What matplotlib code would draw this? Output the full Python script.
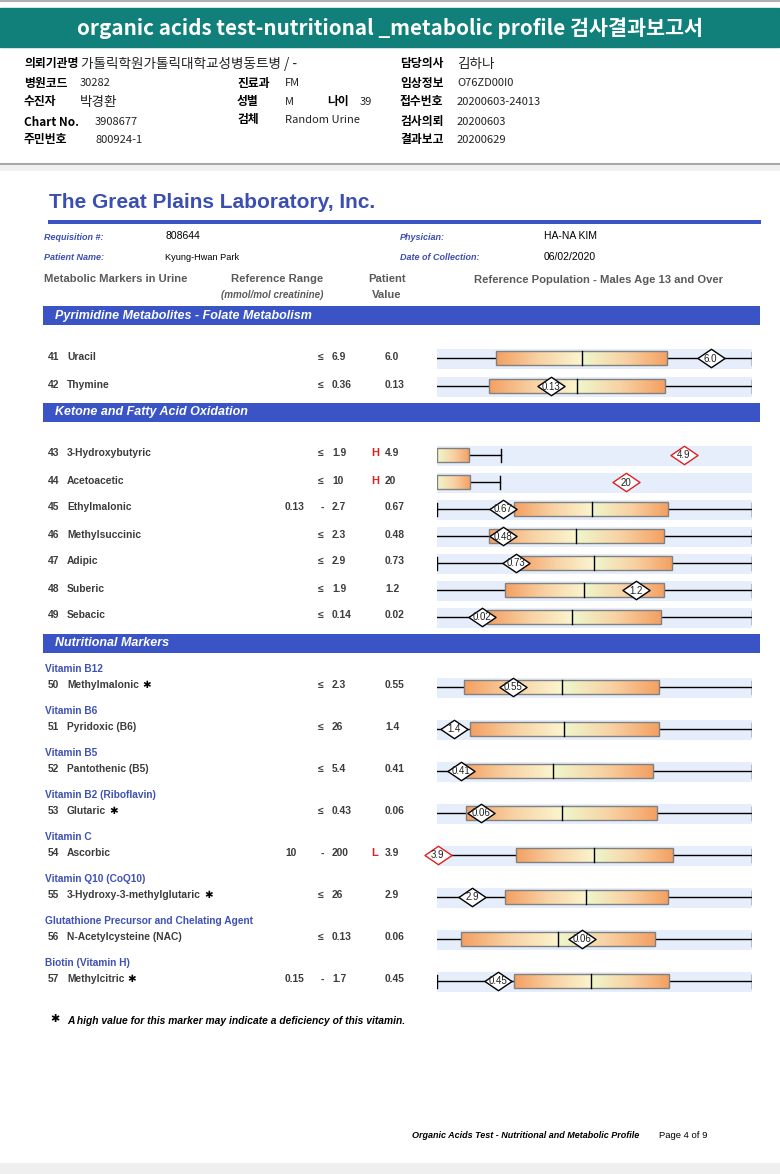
import numpy as np
import matplotlib
matplotlib.use("Agg")
import matplotlib.pyplot as plt
from matplotlib.patches import Rectangle
from matplotlib.path import Path
from matplotlib.colors import LinearSegmentedColormap

# report values
ids = list(range(41, 58))
names = ['Uracil', 'Thymine', '3-Hydroxybutyric', 'Acetoacetic', 'Ethylmalonic',
         'Methylsuccinic', 'Adipic', 'Suberic', 'Sebacic', 'Methylmalonic',
         'Pyridoxic (B6)', 'Pantothenic (B5)', 'Glutaric', 'Ascorbic',
         '3-Hydroxy-3-methylglutaric', 'N-Acetylcysteine (NAC)', 'Methylcitric']
ref_low = ['', '', '', '', '0.13', '', '', '', '', '', '', '', '', '10', '', '', '0.15']
ref_high = ['6.9', '0.36', '1.9', '10', '2.7', '2.3', '2.9', '1.9', '0.14', '2.3',
            '26', '5.4', '0.43', '200', '26', '0.13', '1.7']
values = ['6.0', '0.13', '4.9', '20', '0.67', '0.48', '0.73', '1.2', '0.02', '0.55',
          '1.4', '0.41', '0.06', '3.9', '2.9', '0.06', '0.45']
flags = ['', '', 'H', 'H', '', '', '', '', '', '', '', '', '', 'L', '', '', '']
starred = [50, 53, 55, 57]
vitamins = {50: 'Vitamin B12', 51: 'Vitamin B6', 52: 'Vitamin B5',
            53: 'Vitamin B2 (Riboflavin)', 54: 'Vitamin C', 55: 'Vitamin Q10 (CoQ10)',
            56: 'Glutathione Precursor and Chelating Agent', 57: 'Biotin (Vitamin H)'}

# reference population boxes, position along the bar (0-100)
q1 = [18.7, 16.5, 0, 0, 24.4, 16.5, 25.4, 21.6, 15.9, 8.6, 10.5, 7.8, 9.2, 25.0, 21.5, 7.6, 24.4]
med = [45.9, 44.4, 0, 0, 49.2, 44.1, 49.8, 46.7, 42.9, 39.6, 40.3, 36.8, 39.6, 49.8, 47.3, 38.4, 48.9]
q3 = [73.1, 72.3, 10.2, 10.5, 73.3, 72.1, 74.6, 72.1, 71.1, 70.4, 70.4, 68.5, 69.7, 74.8, 73.2, 69.1, 73.6]
w_hi = [100, 100, 20.3, 20.0, 100, 100, 100, 100, 100, 100, 100, 100, 100, 100, 100, 100, 100]
left_cap = [0, 0, 0, 0, 1, 0, 1, 0, 0, 0, 0, 0, 0, 0, 0, 0, 1]
patient = [86.9, 36.1, 78.4, 60.0, 21.0, 21.0, 25.1, 63.2, 14.3, 24.0, 5.4, 7.5, 14.0, 0.2, 11.1, 46.0, 19.3]

sections = ['Pyrimidine Metabolites - Folate Metabolism', 'Ketone and Fatty Acid Oxidation',
            'Nutritional Markers']

# korean header block: (label x, y, label, value x, value)
info = [
    (24, 64, '의뢰기관명', 81, '가톨릭학원가톨릭대학교성병동트병 / -'),
    (400, 64, '담당의사', 457, '김하나'),
    (24, 83, '병원코드', 80, '30282'),
    (237, 83, '진료과', 285, 'FM'),
    (400, 83, '임상정보', 457, 'O76ZD00I0'),
    (24, 102, '수진자', 80, '박경환'),
    (237, 102, '성별', 285, 'M'),
    (327, 102, '나이', 360, '39'),
    (400, 102, '접수번호', 457, '20200603-24013'),
    (24, 122, 'Chart No.', 95, '3908677'),
    (237, 120, '검체', 285, 'Random Urine'),
    (400, 122, '검사의뢰', 457, '20200603'),
    (24, 140, '주민번호', 95, '800924-1'),
    (400, 140, '결과보고', 457, '20200629'),
]

# layout (page pixels)
row_y = [358, 386, 455, 482, 509, 536, 563, 590, 617, 687, 729, 771, 813, 855, 897, 939, 981]
sec_y = [315.5, 412, 643]

ARIAL = 'Liberation Sans'
KR = ['Noto Sans CJK KR', 'DejaVu Sans']
GRAY = '#3c3c3c'
BLUE = '#3a53c5'
TBLUE = '#3b4fb2'
RED = '#e02020'

fig = plt.figure(figsize=(7.8, 11.74), dpi=100)
ax = fig.add_axes([0, 0, 1, 1])
ax.set_xlim(0, 780)
ax.set_ylim(1174, 0)
ax.axis('off')

# korean header
ax.plot([0, 780], [1, 1], color='#b0b0b0', lw=1.5)
ax.add_patch(Rectangle((0, 8), 779, 39, color='#11807b'))
ax.text(390, 28.5, 'organic acids test-nutritional _metabolic profile 검사결과보고서',
        ha='center', va='center', color='white', fontsize=14.9, fontweight='bold', family=KR)

def is_korean(s):
    return any('\uac00' <= c <= '\ud7a3' for c in s)

for lx, y, lab, vx, val in info:
    ax.text(lx, y, lab, ha='left', va='center', fontsize=8.5, fontweight='bold', family=KR, color='black')
    ax.text(vx, y, val, ha='left', va='center', fontsize=9.8 if is_korean(val) else 8,
            family=KR, color='#222222')

ax.plot([0, 780], [164, 164], color='#a8a8a8', lw=1.5)
ax.add_patch(Rectangle((0, 165), 780, 6, color='#f0f0f0', lw=0))
ax.add_patch(Rectangle((0, 1163), 780, 11, color='#efefef', lw=0))

# lab page header
ax.text(49, 203, 'The Great Plains Laboratory, Inc.', ha='left', va='center',
        fontsize=15, fontweight='bold', family=ARIAL, color=TBLUE)
ax.add_patch(Rectangle((48, 220), 713, 4, color=BLUE, lw=0))

small_lab = dict(ha='left', va='center', fontsize=6.5, style='italic', fontweight='bold', family=ARIAL, color=TBLUE)
small_val = dict(ha='left', va='center', fontsize=7.5, family=ARIAL, color='black')
ax.text(44, 237, 'Requisition #:', **small_lab)
ax.text(165, 236, '808644', **small_val)
ax.text(400, 237, 'Physician:', **small_lab)
ax.text(544, 236, 'HA-NA KIM', **small_val)
ax.text(44, 258, 'Patient Name:', **small_lab)
ax.text(165, 257, 'Kyung-Hwan Park', ha='left', va='center', fontsize=6.6, family=ARIAL, color='black')
ax.text(400, 258, 'Date of Collection:', **small_lab)
ax.text(544, 257, '06/02/2020', **small_val)

hdr = dict(ha='left', va='center', fontsize=8.1, fontweight='bold', family=ARIAL, color='#5a5a5a')
ax.text(44, 279, 'Metabolic Markers in Urine', **hdr)
ax.text(231, 279, 'Reference Range', **hdr)
ax.text(368, 279, 'Patient', **hdr)
ax.text(372, 295, 'Value', **hdr)
ax.text(474, 280, 'Reference Population - Males Age 13 and Over', **hdr)
ax.text(221, 295, '(mmol/mol creatinine)', ha='left', va='center', fontsize=7.1,
        style='italic', fontweight='bold', family=ARIAL, color='#5a5a5a')

for sy, st in zip(sec_y, sections):
    ax.add_patch(Rectangle((43, sy - 9.5), 717, 19, color=BLUE, lw=0))
    ax.text(55, sy, st, ha='left', va='center', fontsize=9, style='italic',
            fontweight='bold', family=ARIAL, color='white')

row = dict(ha='left', va='center', fontsize=7.4, fontweight='bold', family=ARIAL, color=GRAY)
for i, n in enumerate(ids):
    y = row_y[i] - 1.5
    if n in vitamins:
        ax.text(45, y - 16.5, vitamins[n], ha='left', va='center', fontsize=7.3,
                fontweight='bold', family=ARIAL, color='#3f51b5')
    ax.text(48, y, str(n), **row)
    t = ax.text(67, y, names[i], **row)
    if n in starred:
        ax.annotate('\u2731', xy=(1, 0.5), xycoords=t, xytext=(2.5, 0), textcoords='offset points',
                    ha='left', va='center', fontsize=7.5, fontweight='bold', family='DejaVu Sans', color='black')
    if ref_low[i]:
        ax.text(285, y, ref_low[i], **row)
        ax.text(321, y, '-', **row)
    else:
        ax.text(318, y, '\u2264', **row)
    ax.text(332, y, ref_high[i], **row)
    if flags[i]:
        ax.text(371, y, flags[i], ha='left', va='center', fontsize=8,
                fontweight='bold', family=ARIAL, color=RED)
    ax.text(385, y, values[i], **row)

ax.text(55, 1019, '\u2731', ha='center', va='center', fontsize=8, fontweight='bold',
        family='DejaVu Sans', color='black')
ax.text(67, 1021, 'A high value for this marker may indicate a deficiency of this vitamin.',
        ha='left', va='center', fontsize=7.4, style='italic', fontweight='bold', family=ARIAL, color='black')
ax.text(412, 1136, 'Organic Acids Test - Nutritional and Metabolic Profile', ha='left', va='center',
        fontsize=6.5, style='italic', fontweight='bold', family=ARIAL, color='black')
ax.text(659, 1136, 'Page 4 of 9', ha='left', va='center', fontsize=6.8, family=ARIAL, color='black')

# reference population bars
bx = fig.add_axes([437 / 780, 0, 315 / 780, 1])
bx.axis('off')
left_cm = LinearSegmentedColormap.from_list('l', ['#f4a062', '#f8d2a4', '#fbf5cf'])
right_cm = LinearSegmentedColormap.from_list('r', ['#eef7cc', '#f8d2a4', '#f4a062'])
grad = np.linspace(0, 1, 128).reshape(1, -1)
diamond = Path([(-1, 0), (0, 0.68), (1, 0), (0, -0.68), (-1, 0)],
               [Path.MOVETO, Path.LINETO, Path.LINETO, Path.LINETO, Path.CLOSEPOLY])
h = 6.7
for i in range(len(ids)):
    y = row_y[i]
    bx.barh(y + 1, 100, height=20, left=0, color='#e6eefb', lw=0, zorder=0)
    if med[i] > q1[i]:
        bx.imshow(grad, cmap=left_cm, extent=(q1[i], med[i], y + h, y - h), aspect='auto',
                  interpolation='bilinear', zorder=2)
    bx.imshow(grad, cmap=right_cm, extent=(med[i], q3[i], y + h, y - h), aspect='auto',
              interpolation='bilinear', zorder=2)
    bx.add_patch(Rectangle((q1[i], y - h), q3[i] - q1[i], 2 * h, fill=False, ec='#808080', lw=1, zorder=3))
    if med[i] > q1[i]:
        bx.plot([med[i], med[i]], [y - h, y + h], color='black', lw=1, zorder=3)
    if q1[i] > 0:
        bx.plot([0, q1[i]], [y, y], color='black', lw=1, zorder=1)
    bx.plot([q3[i], w_hi[i]], [y, y], color='black', lw=1, zorder=1)
    bx.plot([w_hi[i], w_hi[i]], [y - 6.5, y + 6.5], color='black', lw=1, zorder=1)
    if left_cap[i]:
        bx.plot([0.15, 0.15], [y - 6.5, y + 6.5], color='black', lw=1, zorder=1)
    ec = RED if flags[i] else 'black'
    bx.plot(patient[i], y, marker=diamond, ms=19.5, mfc='white', mec=ec, mew=1,
            clip_on=False, zorder=5)
    bx.text(patient[i], y + 0.5, values[i], ha='center', va='center', fontsize=7,
            family=ARIAL, color='#202020', zorder=6, clip_on=False)

bx.set_xlim(0, 100)
bx.set_ylim(1174, 0)

fig.savefig('out.png', dpi=100)
